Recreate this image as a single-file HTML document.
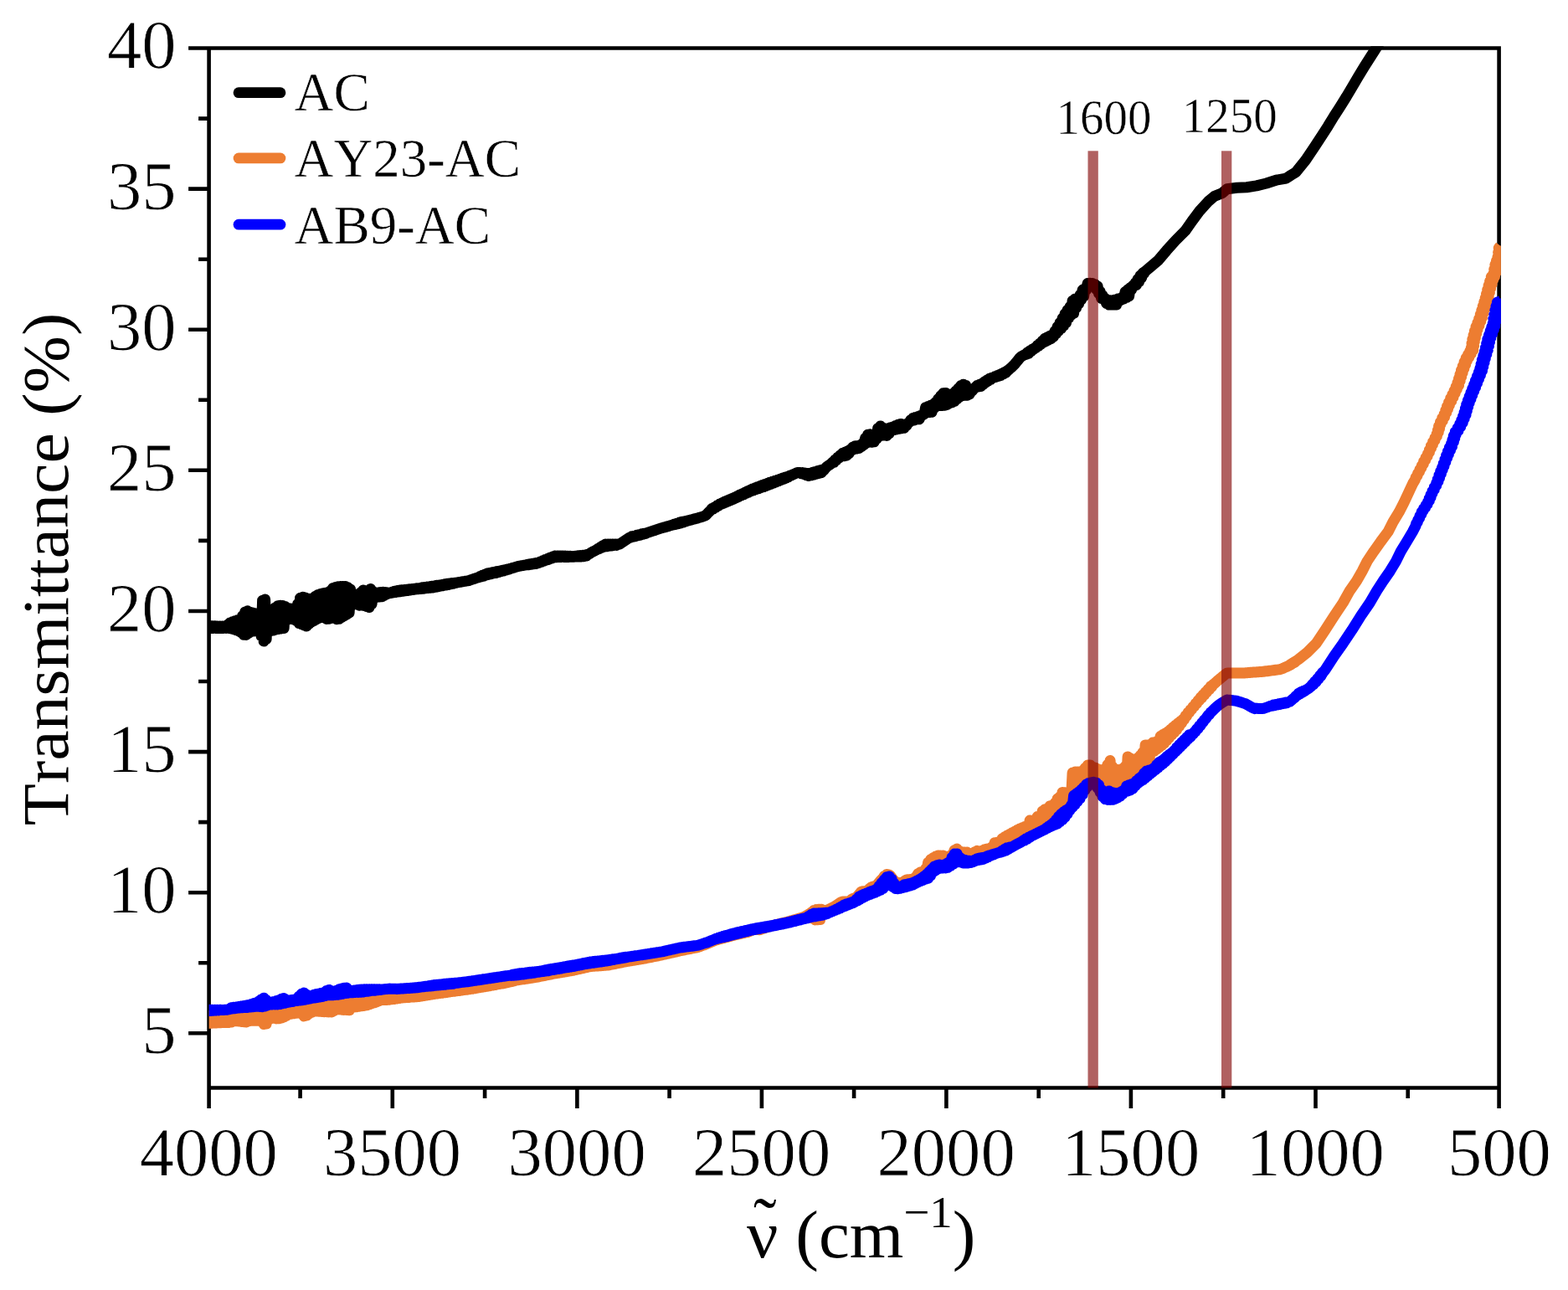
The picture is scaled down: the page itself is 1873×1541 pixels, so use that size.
<!DOCTYPE html>
<html lang="en">
<head>
<meta charset="utf-8">
<title>FTIR transmittance spectra</title>
<style>
html,body{margin:0;padding:0;background:#fff;}
body{width:1873px;height:1541px;overflow:hidden;}
svg{display:block;}
</style>
</head>
<body>
<svg width="1873" height="1541" viewBox="0 0 1873 1541">
<rect width="1873" height="1541" fill="#fff"/>
<defs><clipPath id="c"><rect x="249.6" y="55.2" width="1543.3" height="1246.6"/></clipPath></defs>
<g stroke="#000" stroke-width="4.6" fill="none">
<path d="M225.1 57.5 H1792.9 M249.6 57.5 V1324.0 M247.3 1299.5 H1792.9 M1790.6 57.5 V1324.0"/>
<path d="M225.1 225.6 H249.6 M225.1 393.7 H249.6 M225.1 561.8 H249.6 M225.1 730.0 H249.6 M225.1 898.1 H249.6 M225.1 1066.2 H249.6 M225.1 1234.3 H249.6 M237.1 141.6 H249.6 M237.1 309.7 H249.6 M237.1 477.8 H249.6 M237.1 645.9 H249.6 M237.1 814.0 H249.6 M237.1 982.1 H249.6 M237.1 1150.2 H249.6 M468.8 1299.5 V1324.0 M689.4 1299.5 V1324.0 M909.9 1299.5 V1324.0 M1130.4 1299.5 V1324.0 M1350.9 1299.5 V1324.0 M1571.5 1299.5 V1324.0 M358.6 1299.5 V1312.0 M579.1 1299.5 V1312.0 M799.6 1299.5 V1312.0 M1020.1 1299.5 V1312.0 M1240.7 1299.5 V1312.0 M1461.2 1299.5 V1312.0 M1681.7 1299.5 V1312.0"/>
</g>
<g clip-path="url(#c)" fill="none" stroke-width="13.0" stroke-linejoin="round" stroke-linecap="round">
<polyline stroke="#000" points="241.6,747.6 243.1,750.4 244.6,747.6 246.1,750.4 247.6,747.6 249.1,750.4 250.6,747.6 252.1,750.4 253.6,747.7 255.1,750.4 256.6,747.8 258.1,750.4 259.6,747.9 261.1,750.4 262.6,748.0 264.1,750.4 265.6,748.1 267.1,750.4 268.6,748.1 270.1,750.4 271.6,746.4 273.1,750.4 274.6,744.1 276.1,750.9 277.6,742.8 279.1,751.8 280.6,741.7 282.1,752.8 283.6,740.8 285.1,754.0 286.6,739.9 288.1,755.7 289.6,735.8 291.1,758.3 292.6,731.1 294.1,758.4 295.6,729.8 297.1,756.3 298.6,731.2 300.1,754.5 301.6,732.1 303.1,754.1 304.6,732.7 306.1,753.7 307.6,733.3 309.1,753.5 310.6,731.9 312.1,760.0 313.6,717.2 315.1,766.1 316.6,715.9 318.1,763.7 319.6,727.1 321.1,754.6 322.6,733.3 324.1,753.4 325.6,731.4 327.1,752.9 328.6,725.9 330.1,752.0 331.6,723.8 333.1,751.4 334.6,723.3 336.1,751.0 337.6,723.4 339.1,750.6 340.6,724.4 342.1,741.2 343.6,726.6 345.1,738.7 346.6,727.0 348.1,739.4 349.6,727.0 351.1,740.2 352.6,726.9 354.1,741.8 355.6,721.5 357.1,744.5 358.6,714.3 360.1,745.8 361.6,713.3 363.1,747.0 364.6,713.9 366.1,748.1 367.6,714.9 369.1,745.3 370.6,715.7 372.1,743.2 373.6,714.6 375.1,741.6 376.6,712.3 378.1,740.0 379.6,710.5 381.1,738.5 382.6,709.6 384.1,737.1 385.6,708.7 387.1,737.9 388.6,708.2 390.1,739.4 391.6,707.7 393.1,739.3 394.6,705.7 396.1,737.6 397.6,702.5 399.1,738.4 400.6,701.6 402.1,739.7 403.6,700.7 405.1,739.3 406.6,700.5 408.1,737.6 409.6,700.5 411.1,736.0 412.6,700.4 414.1,734.2 415.6,701.8 417.1,732.2 418.6,703.9 420.1,723.2 421.6,709.4 423.1,718.3 424.6,710.4 426.1,720.0 427.6,710.0 429.1,723.2 430.6,707.9 432.1,722.9 433.6,705.1 435.1,723.5 436.6,706.2 438.1,724.6 439.6,705.5 441.1,725.6 442.6,703.4 444.1,721.4 445.6,706.8 447.1,713.9 448.6,708.8 450.1,713.3 451.6,708.1 453.1,713.1 454.6,707.5 456.1,712.8 457.6,707.2 459.1,711.4 460.6,707.6 462.1,709.9 463.6,708.1 465.1,708.5 466.6,708.5 468.1,707.4 469.6,708.0 471.1,706.5 472.6,707.6 474.1,705.6 475.6,707.1 477.1,705.1 478.6,706.7 480.1,704.8 481.6,706.2 483.1,704.5 484.6,705.8 486.1,704.2 487.6,705.3 489.1,703.9 490.6,704.9 492.1,703.6 493.6,704.4 495.1,703.3 496.6,704.0 498.1,702.9 499.6,703.7 501.1,702.5 502.6,703.4 504.1,702.0 505.6,703.1 507.1,701.6 508.6,702.8 510.1,701.1 511.6,702.5 513.1,700.7 514.6,702.2 516.1,700.2 517.6,701.9 519.1,699.8 520.6,701.3 522.1,699.3 523.6,700.7 525.1,698.9 526.6,700.1 528.1,698.4 529.6,699.5 531.1,698.0 532.6,698.9 534.1,697.5 535.6,698.3 537.1,697.1 538.6,697.7 540.1,696.6 541.6,697.1 543.1,696.2 544.6,696.2 546.1,696.0 547.6,695.7 549.1,695.4 550.6,695.2 552.1,694.9 553.6,694.6 555.1,694.4 556.6,694.1 558.1,693.9 559.6,693.6 561.1,693.2 562.6,692.7 564.1,692.2 565.6,691.7 567.1,691.1 568.6,690.6 570.1,690.1 571.6,689.9 573.1,688.6 574.6,689.0 576.1,687.4 577.6,688.1 579.1,686.2 580.6,687.2 582.1,685.0 583.6,686.4 585.1,684.4 586.6,685.7 588.1,683.8 589.6,684.9 591.1,683.2 592.6,684.2 594.1,682.6 595.6,683.4 597.1,682.0 598.6,682.7 600.1,681.4 601.6,681.9 603.1,680.8 604.6,681.1 606.1,680.0 607.6,680.2 609.1,679.4 610.6,679.0 612.1,678.5 613.6,678.1 615.1,677.7 616.6,677.2 618.1,676.8 619.6,676.4 621.1,676.1 622.6,675.8 624.1,675.6 625.6,675.3 627.1,675.1 628.6,674.9 630.1,674.3 631.6,674.7 633.1,673.8 634.6,674.3 636.1,673.3 637.6,673.8 639.1,672.8 640.6,673.4 642.1,672.2 643.6,672.4 645.1,671.0 646.6,671.3 648.1,669.8 649.6,670.3 651.1,668.6 652.6,669.2 654.1,667.4 655.6,668.2 657.1,666.2 658.6,667.1 660.1,665.0 661.6,666.1 663.1,663.9 664.6,665.7 666.1,663.9 667.6,665.6 669.1,664.0 670.6,665.6 672.1,664.1 673.6,665.5 675.1,664.2 676.6,665.4 678.1,664.3 679.6,665.3 681.1,664.4 682.6,665.2 684.1,664.5 685.6,665.1 687.1,664.2 688.6,665.0 690.1,663.8 691.6,664.9 693.1,663.5 694.6,664.9 696.1,663.2 697.6,664.8 699.1,662.9 700.6,664.0 702.1,662.0 703.6,662.0 705.1,660.8 706.6,659.9 708.1,659.0 709.6,658.3 711.1,657.6 712.6,656.8 714.1,655.6 715.6,655.7 717.1,653.7 718.6,654.4 720.1,651.8 721.6,653.2 723.1,650.0 724.6,652.7 726.1,650.0 727.6,652.3 729.1,650.0 730.6,652.0 732.1,650.0 733.6,651.6 735.1,650.0 736.6,651.2 738.1,650.0 739.6,650.2 741.1,649.4 742.6,648.4 744.1,647.4 745.6,646.4 747.1,645.4 748.6,644.4 750.1,643.4 751.6,642.4 753.1,642.1 754.6,640.9 756.1,641.3 757.6,640.2 759.1,640.6 760.6,639.4 762.1,639.8 763.6,638.7 765.1,639.1 766.6,637.9 768.1,638.3 769.6,637.2 771.1,637.4 772.6,636.6 774.1,636.1 775.6,635.6 777.1,635.1 778.6,634.6 780.1,634.1 781.6,633.6 783.1,633.2 784.6,632.7 786.1,632.2 787.6,631.7 789.1,631.2 790.6,630.7 792.1,630.3 793.6,629.9 795.1,629.5 796.6,629.0 798.1,628.6 799.6,628.2 801.1,627.7 802.6,627.3 804.1,626.9 805.6,626.1 807.1,626.4 808.6,625.2 810.1,625.7 811.6,624.2 813.1,624.9 814.6,623.4 816.1,624.0 817.6,622.7 819.1,623.1 820.6,622.3 822.1,621.9 823.6,621.5 825.1,621.1 826.6,620.7 828.1,620.3 829.6,619.9 831.1,619.5 832.6,619.1 834.1,618.7 835.6,618.2 837.1,617.8 838.6,617.3 840.1,616.8 841.6,616.2 843.1,615.4 844.6,614.0 846.1,612.3 847.6,610.8 849.1,609.3 850.6,607.4 852.1,607.9 853.6,605.7 855.1,606.1 856.6,603.9 858.1,604.4 859.6,602.2 861.1,602.7 862.6,600.5 864.1,601.4 865.6,599.2 867.1,600.1 868.6,597.9 870.1,598.9 871.6,596.6 873.1,597.6 874.6,595.3 876.1,596.3 877.6,594.0 879.1,594.9 880.6,592.6 882.1,593.6 883.6,591.1 885.1,592.2 886.6,589.7 888.1,590.9 889.6,588.2 891.1,589.5 892.6,586.8 894.1,588.2 895.6,585.4 897.1,586.8 898.6,584.0 900.1,585.8 901.6,582.8 903.1,584.7 904.6,581.7 906.1,583.7 907.6,580.6 909.1,582.6 910.6,579.5 912.1,581.6 913.6,578.4 915.1,580.5 916.6,577.3 918.1,579.5 919.6,576.2 921.1,578.3 922.6,575.2 924.1,577.1 925.6,574.2 927.1,575.9 928.6,573.2 930.1,574.7 931.6,572.2 933.1,573.5 934.6,571.2 936.1,572.3 937.6,570.2 939.1,571.1 940.6,569.2 942.1,569.6 943.6,568.1 945.1,568.1 946.6,567.1 948.1,566.5 949.6,565.8 951.1,565.1 952.6,564.5 954.1,564.4 955.6,564.4 957.1,565.6 958.6,564.8 960.1,566.6 961.6,565.1 963.1,567.6 964.6,565.5 966.1,568.5 967.6,565.2 969.1,567.8 970.6,564.3 972.1,567.0 973.6,563.5 975.1,566.3 976.6,562.6 978.1,565.5 979.6,561.8 981.1,564.8 982.6,560.9 984.1,561.7 985.6,559.6 987.1,558.1 988.6,556.7 990.1,555.8 991.6,554.8 993.1,553.7 994.6,552.0 996.1,552.3 997.6,549.0 999.1,549.7 1000.6,546.3 1002.1,547.1 1003.6,543.7 1005.1,545.1 1006.6,541.2 1008.1,544.7 1009.6,540.0 1011.1,544.2 1012.6,538.7 1014.1,541.9 1015.6,536.9 1017.1,538.3 1018.6,534.2 1020.1,536.7 1021.6,532.7 1023.1,536.0 1024.6,532.5 1026.1,535.4 1027.6,532.2 1029.1,533.6 1030.6,529.3 1032.1,531.5 1033.6,523.3 1035.1,529.3 1036.6,519.3 1038.1,527.5 1039.6,518.8 1041.1,528.3 1042.6,519.6 1044.1,527.8 1045.6,519.1 1047.1,524.1 1048.6,511.7 1050.1,520.7 1051.6,509.0 1053.1,520.2 1054.6,511.1 1056.1,519.9 1057.6,512.2 1059.1,520.4 1060.6,511.7 1062.1,517.8 1063.6,510.8 1065.1,514.4 1066.6,509.9 1068.1,513.5 1069.6,508.6 1071.1,512.9 1072.6,507.3 1074.1,512.3 1075.6,506.4 1077.1,511.8 1078.6,507.0 1080.1,511.3 1081.6,507.6 1083.1,508.1 1084.6,505.4 1086.1,504.6 1087.6,502.1 1089.1,502.6 1090.6,499.4 1092.1,501.9 1093.6,498.4 1095.1,501.1 1096.6,497.4 1098.1,500.8 1099.6,496.5 1101.1,496.3 1102.6,495.5 1104.1,494.6 1105.6,486.7 1107.1,492.9 1108.6,485.5 1110.1,492.6 1111.6,484.3 1113.1,492.3 1114.6,483.0 1116.1,487.5 1117.6,480.4 1119.1,484.6 1120.6,476.6 1122.1,484.6 1123.6,473.0 1125.1,484.6 1126.6,469.8 1128.1,484.3 1129.6,469.5 1131.1,483.5 1132.6,471.9 1134.1,481.7 1135.6,472.5 1137.1,480.8 1138.6,469.9 1140.1,479.4 1141.6,467.2 1143.1,476.7 1144.6,464.0 1146.1,474.4 1147.6,460.7 1149.1,472.9 1150.6,459.2 1152.1,472.3 1153.6,460.4 1155.1,472.3 1156.6,465.6 1158.1,471.1 1159.6,467.5 1161.1,467.3 1162.6,465.2 1164.1,463.6 1165.6,462.2 1167.1,460.6 1168.6,462.0 1170.1,459.2 1171.6,461.5 1173.1,457.9 1174.6,459.1 1176.1,455.9 1177.6,456.8 1179.1,453.8 1180.6,455.0 1182.1,452.5 1183.6,453.1 1185.1,451.2 1186.6,451.3 1188.1,449.9 1189.6,450.4 1191.1,448.6 1192.6,449.5 1194.1,447.3 1195.6,448.5 1197.1,446.0 1198.6,447.0 1200.1,444.5 1201.6,445.3 1203.1,443.0 1204.6,442.0 1206.1,440.7 1207.6,439.4 1209.1,438.0 1210.6,436.6 1212.1,435.0 1213.6,433.2 1215.1,431.3 1216.6,429.5 1218.1,427.6 1219.6,426.2 1221.1,425.2 1222.6,424.4 1224.1,423.7 1225.6,423.6 1227.1,421.2 1228.6,422.3 1230.1,419.0 1231.6,419.8 1233.1,417.3 1234.6,417.4 1236.1,415.5 1237.6,415.3 1239.1,412.8 1240.6,413.2 1242.1,410.0 1243.6,411.1 1245.1,407.1 1246.6,409.1 1248.1,404.3 1249.6,407.6 1251.1,402.7 1252.6,406.1 1254.1,401.2 1255.6,404.6 1257.1,399.7 1258.6,402.2 1260.1,395.5 1261.6,398.6 1263.1,390.3 1264.6,395.4 1266.1,385.5 1267.6,392.4 1269.1,380.2 1270.6,389.0 1272.1,374.8 1273.6,385.4 1275.1,370.4 1276.6,379.8 1278.1,366.2 1279.6,376.1 1281.1,359.2 1282.6,374.1 1284.1,356.9 1285.6,367.7 1287.1,356.4 1288.6,362.8 1290.1,352.3 1291.6,358.0 1293.1,346.3 1294.6,354.0 1296.1,344.4 1297.6,346.5 1299.1,338.6 1300.6,342.1 1302.1,338.2 1303.6,340.2 1305.1,338.5 1306.6,341.1 1308.1,339.7 1309.6,345.6 1311.1,342.0 1312.6,350.8 1314.1,348.0 1315.6,356.3 1317.1,352.7 1318.6,357.9 1320.1,356.4 1321.6,362.5 1323.1,358.7 1324.6,364.0 1326.1,358.8 1327.6,364.0 1329.1,358.8 1330.6,364.0 1332.1,358.0 1333.6,364.0 1335.1,357.1 1336.6,359.8 1338.1,356.5 1339.6,358.2 1341.1,354.5 1342.6,357.0 1344.1,348.5 1345.6,355.5 1347.1,346.1 1348.6,353.8 1350.1,343.8 1351.6,346.0 1353.1,341.4 1354.6,341.1 1356.1,337.9 1357.6,340.4 1359.1,333.4 1360.6,336.7 1362.1,329.1 1363.6,331.9 1365.1,326.1 1366.6,326.6"/>
<polyline stroke="#000" stroke-linecap="butt" points="1364.1,327.4 1372.9,320.0 1383.5,311.0 1393.5,299.2 1404.0,287.5 1415.8,275.7 1424.0,264.0 1432.8,252.2 1443.4,240.5 1450.4,234.6 1459.8,230.7 1465.7,225.8 1477.5,224.3 1489.2,223.7 1501.0,221.9 1512.7,219.0 1524.4,215.2 1536.2,213.1 1542.1,209.3 1547.9,205.8 1559.7,191.1 1571.1,174.2 1578.7,162.5 1586.3,150.7 1593.4,139.0 1601.0,127.2 1608.3,115.5 1615.3,103.7 1622.2,92.0 1629.4,80.2 1636.8,68.5 1642.4,59.7 1651.5,45.0 1657.4,35.6"/>
<polyline stroke="#ed7d31" points="241.6,1213.5 243.1,1222.4 244.6,1213.5 246.1,1222.4 247.6,1213.5 249.1,1222.4 250.6,1213.4 252.1,1222.3 253.6,1213.3 255.1,1222.1 256.6,1213.2 258.1,1222.0 259.6,1213.1 261.1,1221.8 262.6,1213.0 264.1,1221.7 265.6,1212.9 267.1,1221.5 268.6,1212.8 270.1,1221.5 271.6,1212.7 273.1,1221.5 274.6,1211.2 276.1,1221.1 277.6,1210.8 279.1,1219.9 280.6,1210.4 282.1,1219.8 283.6,1210.0 285.1,1220.1 286.6,1209.6 288.1,1220.4 289.6,1209.3 291.1,1220.7 292.6,1208.9 294.1,1221.0 295.6,1208.6 297.1,1219.9 298.6,1208.1 300.1,1219.3 301.6,1207.4 303.1,1219.3 304.6,1206.8 306.1,1219.3 307.6,1206.0 309.1,1219.3 310.6,1205.1 312.1,1219.8 313.6,1204.2 315.1,1223.5 316.6,1204.1 318.1,1223.0 319.6,1204.7 321.1,1217.9 322.6,1205.2 324.1,1215.8 325.6,1204.8 327.1,1216.3 328.6,1204.4 330.1,1216.9 331.6,1204.0 333.1,1216.8 334.6,1203.3 336.1,1216.0 337.6,1202.2 339.1,1215.1 340.6,1202.3 342.1,1213.3 343.6,1202.9 345.1,1211.6 346.6,1202.4 348.1,1211.2 349.6,1201.9 351.1,1210.8 352.6,1201.4 354.1,1210.3 355.6,1200.0 357.1,1209.9 358.6,1198.0 360.1,1211.2 361.6,1197.1 363.1,1213.9 364.6,1197.0 366.1,1213.0 367.6,1197.7 369.1,1211.0 370.6,1198.4 372.1,1209.4 373.6,1197.4 375.1,1207.9 376.6,1196.3 378.1,1208.1 379.6,1195.8 381.1,1208.3 382.6,1195.3 384.1,1208.5 385.6,1194.8 387.1,1208.7 388.6,1193.6 390.1,1208.8 391.6,1192.1 393.1,1208.9 394.6,1192.4 396.1,1209.0 397.6,1193.0 399.1,1207.3 400.6,1192.8 402.1,1205.8 403.6,1191.9 405.1,1205.9 406.6,1191.1 408.1,1206.2 409.6,1190.4 411.1,1206.4 412.6,1189.8 414.1,1206.6 415.6,1190.1 417.1,1206.8 418.6,1191.1 420.1,1203.8 421.6,1190.9 423.1,1203.1 424.6,1190.7 426.1,1202.7 427.6,1190.4 429.1,1202.3 430.6,1190.2 432.1,1201.8 433.6,1189.9 435.1,1201.4 436.6,1189.7 438.1,1200.8 439.6,1189.5 441.1,1199.8 442.6,1189.3 444.1,1198.8 445.6,1189.0 447.1,1197.8 448.6,1188.9 450.1,1196.8 451.6,1188.7 453.1,1195.7 454.6,1188.6 456.1,1194.6 457.6,1188.4 459.1,1194.5 460.6,1188.1 462.1,1194.4 463.6,1187.8 465.1,1194.2 466.6,1187.7 468.1,1193.8 469.6,1187.7 471.1,1193.4 472.6,1187.8 474.1,1193.0 475.6,1187.8 477.1,1192.5 478.6,1187.6 480.1,1192.1 481.6,1187.4 483.1,1191.8 484.6,1187.2 486.1,1191.6 487.6,1187.0 489.1,1191.4 490.6,1186.8 492.1,1191.1 493.6,1186.6 495.1,1190.9 496.6,1186.4 498.1,1190.7 499.6,1186.0 501.1,1190.4 502.6,1185.6 504.1,1189.9 505.6,1185.2 507.1,1189.4 508.6,1184.9 510.1,1188.9 511.6,1184.5 513.1,1188.4 514.6,1184.1 516.1,1187.9 517.6,1183.7 519.1,1187.5 520.6,1183.4 522.1,1187.0 523.6,1183.1 525.1,1186.6 526.6,1182.8 528.1,1186.2 529.6,1182.5 531.1,1185.8 532.6,1182.2 534.1,1185.4 535.6,1181.9 537.1,1184.9 538.6,1181.6 540.1,1184.5 541.6,1181.3 543.1,1184.2 544.6,1180.9 546.1,1183.8 547.6,1180.5 549.1,1183.4 550.6,1180.1 552.1,1183.0 553.6,1179.8 555.1,1182.6 556.6,1179.4 558.1,1182.2 559.6,1179.0 561.1,1181.8 562.6,1178.6 564.1,1181.3 565.6,1178.1 567.1,1180.8 568.6,1177.7 570.1,1180.2 571.6,1177.2 573.1,1179.7 574.6,1176.8 576.1,1179.2 577.6,1176.3 579.1,1178.7 580.6,1175.9 582.1,1178.2 583.6,1175.4 585.1,1177.7 586.6,1175.0 588.1,1177.1 589.6,1174.5 591.1,1176.6 592.6,1174.1 594.1,1176.0 595.6,1173.6 597.1,1175.5 598.6,1173.2 600.1,1175.0 601.6,1172.7 603.1,1174.4 604.6,1172.3 606.1,1173.7 607.6,1171.9 609.1,1173.1 610.6,1171.5 612.1,1172.4 613.6,1171.1 615.1,1171.7 616.6,1170.7 618.1,1170.8 619.6,1170.5 621.1,1170.3 622.6,1170.1 624.1,1169.9 625.6,1169.7 627.1,1169.5 628.6,1169.2 630.1,1169.0 631.6,1168.8 633.1,1168.6 634.6,1168.4 636.1,1168.1 637.6,1167.9 639.1,1167.6 640.6,1167.4 642.1,1167.1 643.6,1166.8 645.1,1166.5 646.6,1166.2 648.1,1165.9 649.6,1165.6 651.1,1165.3 652.6,1165.0 654.1,1164.7 655.6,1164.4 657.1,1164.1 658.6,1163.8 660.1,1163.5 661.6,1163.2 663.1,1162.9 664.6,1162.7 666.1,1162.4 667.6,1162.2 669.1,1161.9 670.6,1161.7 672.1,1161.4 673.6,1161.2 675.1,1160.9 676.6,1160.7 678.1,1160.4 679.6,1160.1 681.1,1159.9 682.6,1159.6 684.1,1159.4 685.6,1159.0 687.1,1158.7 688.6,1158.3 690.1,1158.0 691.6,1157.7 693.1,1157.3 694.6,1157.0 696.1,1156.6 697.6,1156.3 699.1,1155.9 700.6,1155.6 702.1,1155.2 703.6,1154.9 705.1,1154.6 706.6,1154.4 708.1,1154.3 709.6,1154.2 711.1,1154.1 712.6,1154.0 714.1,1153.9 715.6,1153.8 717.1,1153.7 718.6,1153.5 720.1,1153.4 721.6,1153.3 723.1,1153.2 724.6,1153.1 726.1,1153.0 727.6,1152.8 729.1,1152.5 730.6,1152.2 732.1,1151.9 733.6,1151.6 735.1,1151.3 736.6,1151.0 738.1,1150.7 739.6,1150.4 741.1,1150.1 742.6,1149.8 744.1,1149.5 745.6,1149.2 747.1,1148.9 748.6,1148.6 750.1,1148.4 751.6,1148.1 753.1,1147.9 754.6,1147.6 756.1,1147.4 757.6,1147.1 759.1,1146.8 760.6,1146.6 762.1,1146.3 763.6,1146.1 765.1,1145.8 766.6,1145.6 768.1,1145.3 769.6,1145.1 771.1,1144.8 772.6,1144.5 774.1,1144.2 775.6,1143.9 777.1,1143.6 778.6,1143.3 780.1,1143.0 781.6,1142.7 783.1,1142.4 784.6,1142.1 786.1,1141.8 787.6,1141.5 789.1,1141.2 790.6,1140.8 792.1,1140.5 793.6,1140.2 795.1,1139.8 796.6,1139.5 798.1,1139.1 799.6,1138.8 801.1,1138.4 802.6,1138.1 804.1,1137.8 805.6,1137.4 807.1,1137.1 808.6,1136.7 810.1,1136.4 811.6,1136.0 813.1,1135.7 814.6,1135.4 816.1,1135.1 817.6,1134.8 819.1,1134.5 820.6,1134.2 822.1,1133.9 823.6,1133.6 825.1,1133.3 826.6,1133.0 828.1,1132.7 829.6,1132.4 831.1,1132.1 832.6,1131.8 834.1,1131.4 835.6,1130.9 837.1,1130.3 838.6,1129.7 840.1,1129.2 841.6,1128.6 843.1,1128.0 844.6,1127.4 846.1,1126.8 847.6,1126.1 849.1,1125.5 850.6,1124.9 852.1,1124.3 853.6,1123.6 855.1,1123.1 856.6,1122.6 858.1,1122.2 859.6,1121.8 861.1,1121.4 862.6,1121.0 864.1,1120.6 865.6,1120.2 867.1,1119.8 868.6,1119.4 870.1,1119.0 871.6,1118.6 873.1,1118.2 874.6,1117.8 876.1,1117.4 877.6,1117.0 879.1,1116.7 880.6,1116.3 882.1,1116.0 883.6,1115.6 885.1,1115.3 886.6,1114.9 888.1,1114.6 889.6,1114.2 891.1,1113.9 892.6,1113.6 894.1,1113.2 895.6,1112.5 897.1,1111.6 898.6,1111.2 900.1,1110.3 901.6,1109.8 903.1,1109.9 904.6,1110.4 906.1,1110.5 907.6,1110.7 909.1,1110.1 910.6,1109.6 912.1,1109.1 913.6,1108.6 915.1,1108.0 916.6,1107.5 918.1,1107.0 919.6,1106.5 921.1,1106.1 922.6,1105.8 924.1,1105.4 925.6,1105.0 927.1,1104.6 928.6,1104.3 930.1,1103.9 931.6,1103.5 933.1,1103.1 934.6,1102.7 936.1,1102.4 937.6,1102.0 939.1,1101.6 940.6,1101.2 942.1,1100.8 943.6,1100.3 945.1,1099.9 946.6,1099.5 948.1,1099.0 949.6,1098.6 951.1,1098.2 952.6,1097.7 954.1,1097.3 955.6,1096.9 957.1,1096.4 958.6,1095.9 960.1,1095.4 961.6,1094.8 963.1,1093.9 964.6,1092.9 966.1,1092.1 967.6,1092.9 969.1,1089.8 970.6,1097.0 972.1,1087.5 973.6,1098.9 975.1,1086.6 976.6,1098.7 978.1,1086.3 979.6,1098.6 981.1,1086.3 982.6,1090.1 984.1,1087.3 985.6,1087.7 987.1,1087.5 988.6,1087.0 990.1,1086.4 991.6,1085.6 993.1,1084.8 994.6,1084.0 996.1,1083.3 997.6,1082.4 999.1,1081.4 1000.6,1080.4 1002.1,1079.4 1003.6,1078.3 1005.1,1077.5 1006.6,1077.1 1008.1,1077.1 1009.6,1077.1 1011.1,1077.0 1012.6,1077.0 1014.1,1076.8 1015.6,1075.8 1017.1,1074.4 1018.6,1073.5 1020.1,1073.1 1021.6,1073.0 1023.1,1071.8 1024.6,1070.2 1026.1,1068.4 1027.6,1066.6 1029.1,1064.9 1030.6,1064.8 1032.1,1064.8 1033.6,1064.7 1035.1,1064.5 1036.6,1063.5 1038.1,1062.0 1039.6,1060.7 1041.1,1059.6 1042.6,1059.1 1044.1,1059.0 1045.6,1058.3 1047.1,1057.3 1048.6,1056.0 1050.1,1054.1 1051.6,1052.2 1053.1,1050.6 1054.6,1049.5 1056.1,1046.7 1057.6,1046.9 1059.1,1044.6 1060.6,1044.7 1062.1,1045.2 1063.6,1046.2 1065.1,1048.3 1066.6,1050.5 1068.1,1051.8 1069.6,1053.3 1071.1,1054.6 1072.6,1054.6 1074.1,1054.6 1075.6,1054.6 1077.1,1054.6 1078.6,1053.8 1080.1,1052.7 1081.6,1051.7 1083.1,1051.0 1084.6,1050.8 1086.1,1050.7 1087.6,1050.6 1089.1,1050.6 1090.6,1049.9 1092.1,1049.2 1093.6,1047.9 1095.1,1046.7 1096.6,1043.6 1098.1,1045.1 1099.6,1041.7 1101.1,1043.4 1102.6,1040.7 1104.1,1041.6 1105.6,1037.8 1107.1,1039.7 1108.6,1030.2 1110.1,1037.3 1111.6,1026.8 1113.1,1033.5 1114.6,1024.7 1116.1,1031.2 1117.6,1023.1 1119.1,1029.7 1120.6,1022.0 1122.1,1028.7 1123.6,1022.0 1125.1,1028.7 1126.6,1022.0 1128.1,1028.2 1129.6,1022.9 1131.1,1027.2 1132.6,1024.0 1134.1,1023.3 1135.6,1022.2 1137.1,1020.9 1138.6,1019.7 1140.1,1015.5 1141.6,1018.8 1143.1,1013.9 1144.6,1017.9 1146.1,1016.6 1147.6,1019.7 1149.1,1017.7 1150.6,1022.3 1152.1,1017.9 1153.6,1022.8 1155.1,1018.0 1156.6,1023.0 1158.1,1019.2 1159.6,1023.1 1161.1,1020.4 1162.6,1022.2 1164.1,1017.7 1165.6,1020.6 1167.1,1016.3 1168.6,1020.0 1170.1,1016.9 1171.6,1019.4 1173.1,1016.2 1174.6,1018.9 1176.1,1014.7 1177.6,1017.7 1179.1,1013.9 1180.6,1016.4 1182.1,1013.6 1183.6,1015.2 1185.1,1011.6 1186.6,1014.1 1188.1,1006.7 1189.6,1013.1 1191.1,1006.2 1192.6,1012.1 1194.1,1006.2 1195.6,1010.7 1197.1,1001.7 1198.6,1009.3 1200.1,999.7 1201.6,1008.0 1203.1,998.1 1204.6,1006.9 1206.1,996.5 1207.6,1005.8 1209.1,994.8 1210.6,1004.2 1212.1,993.2 1213.6,1002.2 1215.1,991.5 1216.6,1000.6 1218.1,989.9 1219.6,998.9 1221.1,988.7 1222.6,997.3 1224.1,987.6 1225.6,995.6 1227.1,986.4 1228.6,994.0 1230.1,980.0 1231.6,992.3 1233.1,980.2 1234.6,990.7 1236.1,979.2 1237.6,989.2 1239.1,975.5 1240.6,987.7 1242.1,974.5 1243.6,986.2 1245.1,969.0 1246.6,984.5 1248.1,966.7 1249.6,982.7 1251.1,966.6 1252.6,980.9 1254.1,962.8 1255.6,979.0 1257.1,962.8 1258.6,976.6 1260.1,959.1 1261.6,974.1 1263.1,954.1 1264.6,971.7 1266.1,951.6 1267.6,969.2 1269.1,946.5 1270.6,966.8 1272.1,946.7 1273.6,964.4 1275.1,948.1 1276.6,955.3 1278.1,946.1 1279.6,952.4 1281.1,923.0 1282.6,949.6 1284.1,922.0 1285.6,946.7 1287.1,921.9 1288.6,943.5 1290.1,921.8 1291.6,940.2 1293.1,921.7 1294.6,935.6 1296.1,917.5 1297.6,932.6 1299.1,914.1 1300.6,930.5 1302.1,914.0 1303.6,928.9 1305.1,916.3 1306.6,928.4 1308.1,917.2 1309.6,930.8 1311.1,918.8 1312.6,933.6 1314.1,921.6 1315.6,937.6 1317.1,920.3 1318.6,942.1 1320.1,917.9 1321.6,944.5 1323.1,913.3 1324.6,943.4 1326.1,908.5 1327.6,944.2 1329.1,916.1 1330.6,944.5 1332.1,919.4 1333.6,944.1 1335.1,919.4 1336.6,942.8 1338.1,919.4 1339.6,941.0 1341.1,917.9 1342.6,936.8 1344.1,915.3 1345.6,935.3 1347.1,903.9 1348.6,934.5 1350.1,905.7 1351.6,933.6 1353.1,907.3 1354.6,930.6 1356.1,907.3 1357.6,927.8 1359.1,905.3 1360.6,925.2 1362.1,902.5 1363.6,922.2 1365.1,898.6 1366.6,919.7 1368.1,889.9 1369.6,918.0 1371.1,890.0 1372.6,916.3 1374.1,890.0 1375.6,898.8 1377.1,887.0 1378.6,897.3 1380.1,886.6 1381.6,895.1 1383.1,885.0 1384.6,892.8 1386.1,879.5 1387.6,890.4 1389.1,877.6 1390.6,888.0 1392.1,875.9 1393.6,884.7 1395.1,873.9 1396.6,881.2 1398.1,871.4 1399.6,878.0 1401.1,868.9 1402.6,875.0 1404.1,866.4 1405.6,871.8 1407.1,863.9 1408.6,868.0 1410.1,861.6 1411.6,863.7 1413.1,859.2 1414.6,859.5 1416.1,854.9 1417.6,855.3 1419.1,851.3 1420.6,851.1 1422.1,847.7 1423.6,847.5 1425.1,844.1 1426.6,843.9 1428.1,840.5 1429.6,840.3 1431.1,836.9 1432.6,836.8 1434.1,833.3 1435.6,833.5 1437.1,829.8 1438.6,830.2 1440.1,826.5 1441.6,826.9 1443.1,823.2 1444.6,823.6 1446.1,820.1 1447.6,820.3 1449.1,817.7 1450.6,816.7 1452.1,815.3 1453.6,813.9 1455.1,812.7 1456.6,811.4 1458.1,810.2 1459.6,808.9 1461.1,807.7 1462.6,806.4 1464.1,805.1 1465.6,804.1 1467.1,803.9 1468.6,803.9 1470.1,803.9 1471.6,803.9 1473.1,803.9 1474.6,803.9 1476.1,803.9 1477.6,803.9 1479.1,803.9 1480.6,803.9 1482.1,803.9 1483.6,803.9 1485.1,803.9 1486.6,803.9 1488.1,803.8 1489.6,803.7 1491.1,803.6 1492.6,803.5 1494.1,803.3 1495.6,803.2 1497.1,803.1 1498.6,803.0 1500.1,802.9 1501.6,802.8 1503.1,802.7 1504.6,802.6 1506.1,802.5 1507.6,802.4 1509.1,802.2 1510.6,802.0 1512.1,801.8 1513.6,801.7 1515.1,801.5 1516.6,801.3 1518.1,801.1 1519.6,800.9 1521.1,800.7 1522.6,800.5 1524.1,800.3 1525.6,800.1 1527.1,799.9 1528.6,799.7 1530.1,799.3 1531.6,798.7 1533.1,798.1 1534.6,797.4 1536.1,796.7 1537.6,796.1 1539.1,795.4 1540.6,794.6 1542.1,793.7 1543.6,792.7 1545.1,791.7 1546.6,791.1"/>
<polyline stroke="#ed7d31" stroke-linecap="butt" points="1540.2,794.8 1550.8,787.9 1561.5,779.4 1572.2,768.7 1582.9,752.7 1593.6,736.0 1604.3,720.0 1612.3,705.7 1620.5,694.0 1627.2,682.2 1633.1,670.5 1641.0,658.7 1649.3,647.0 1658.1,635.2 1664.0,623.5 1671.2,611.7 1677.2,600.0 1682.2,589.2 1687.7,577.5 1690.5,572.9 1691.2,570.3 1693.0,568.2 1693.6,565.5 1695.5,563.5 1696.0,560.8 1697.9,558.9 1698.3,556.1 1700.3,554.2 1700.6,551.4 1702.7,549.5 1703.0,546.7 1705.2,544.8 1705.4,542.0 1707.5,540.1 1707.4,537.3 1709.6,535.4 1709.4,532.6 1711.6,530.8 1711.6,527.8 1714.0,526.1 1713.9,523.1 1716.4,521.4 1716.1,518.5 1718.2,516.6 1717.4,513.8 1719.5,511.9 1718.6,509.1 1720.8,507.3 1720.5,504.3 1723.2,502.7 1722.8,499.5 1725.5,498.0 1725.1,494.9 1727.7,493.2 1726.8,490.2 1729.5,488.5 1728.6,485.5 1731.3,483.9 1730.6,480.7 1733.6,479.2 1732.8,476.0 1735.8,474.6 1735.0,471.3 1738.1,469.9 1737.1,466.6 1740.3,465.2 1739.2,461.9 1742.5,460.4 1741.0,457.1 1744.1,455.3 1742.5,452.2 1745.6,450.4 1744.0,447.2 1747.1,445.5 1745.5,442.2 1748.8,440.6 1747.3,437.3 1750.6,435.7 1749.1,432.3 1752.4,431.0 1751.2,427.6 1754.8,426.9 1753.6,423.4 1757.2,422.8 1755.9,419.3 1759.8,418.2 1757.3,415.3 1760.6,413.3 1758.0,410.4 1761.3,408.3 1758.8,405.3 1762.4,403.6 1760.1,400.3 1763.7,398.6 1761.4,395.4 1765.0,393.9 1763.0,390.3 1766.9,388.9 1764.9,385.4 1768.8,384.0 1766.7,380.5 1770.6,379.0 1768.3,375.5 1772.2,374.1 1769.8,370.6 1773.8,369.1 1771.3,365.7 1775.3,364.2 1772.8,360.8 1776.8,359.3 1774.2,355.9 1778.2,354.3 1775.5,351.0 1779.4,349.3 1776.7,346.0 1780.6,344.5 1778.1,341.0 1782.1,339.5 1779.6,336.1 1783.6,334.6 1781.3,330.7 1785.5,330.4 1783.8,327.1 1787.6,324.9 1784.7,321.7 1788.4,319.8 1785.9,316.3 1789.9,314.9 1787.5,311.4 1791.5,310.0 1789.0,306.8 1792.7,304.5 1789.6,301.5 1793.3,299.2 1790.2,296.2 1792.2,293.7"/>
<polyline stroke="#0000ff" points="241.6,1206.4 243.1,1207.5 244.6,1206.4 246.1,1207.5 247.6,1206.4 249.1,1207.5 250.6,1206.4 252.1,1207.4 253.6,1206.4 255.1,1207.2 256.6,1206.3 258.1,1207.1 259.6,1206.3 261.1,1206.9 262.6,1206.2 264.1,1206.5 265.6,1206.4 267.1,1206.4 268.6,1206.3 270.1,1206.3 271.6,1206.2 273.1,1205.7 274.6,1205.5 276.1,1203.7 277.6,1205.1 279.1,1203.3 280.6,1204.7 282.1,1202.9 283.6,1204.3 285.1,1202.5 286.6,1204.0 288.1,1202.0 289.6,1203.8 291.1,1201.5 292.6,1203.6 294.1,1201.0 295.6,1203.5 297.1,1200.5 298.6,1203.1 300.1,1199.6 301.6,1202.8 303.1,1198.6 304.6,1202.4 306.1,1197.7 307.6,1202.3 309.1,1196.0 310.6,1202.5 312.1,1193.9 313.6,1202.7 315.1,1192.2 316.6,1202.0 318.1,1194.6 319.6,1200.9 321.1,1197.0 322.6,1199.9 324.1,1197.2 325.6,1199.9 327.1,1196.4 328.6,1199.9 330.1,1195.6 331.6,1199.9 333.1,1194.7 334.6,1199.5 336.1,1193.3 337.6,1198.8 339.1,1192.6 340.6,1198.2 342.1,1194.6 343.6,1197.5 345.1,1195.1 346.6,1197.0 348.1,1194.6 349.6,1196.4 351.1,1194.2 352.6,1195.8 354.1,1193.5 355.6,1195.4 357.1,1190.2 358.6,1195.1 360.1,1187.3 361.6,1194.7 363.1,1186.1 364.6,1194.2 366.1,1188.1 367.6,1193.6 369.1,1190.1 370.6,1192.9 372.1,1190.9 373.6,1192.3 375.1,1188.2 376.6,1191.9 378.1,1187.5 379.6,1191.4 381.1,1186.9 382.6,1191.0 384.1,1186.3 385.6,1190.5 387.1,1185.5 388.6,1189.6 390.1,1183.4 391.6,1188.7 393.1,1182.4 394.6,1188.7 396.1,1183.7 397.6,1188.7 399.1,1184.7 400.6,1188.5 402.1,1183.3 403.6,1188.2 405.1,1181.8 406.6,1187.8 408.1,1181.0 409.6,1187.2 411.1,1180.2 412.6,1186.6 414.1,1180.1 415.6,1186.2 417.1,1182.7 418.6,1185.8 420.1,1183.4 421.6,1185.7 423.1,1183.0 424.6,1185.5 426.1,1182.6 427.6,1185.4 429.1,1182.2 430.6,1185.3 432.1,1181.9 433.6,1185.1 435.1,1181.8 436.6,1184.6 438.1,1181.8 439.6,1184.2 441.1,1181.8 442.6,1183.7 444.1,1181.8 445.6,1183.3 447.1,1181.8 448.6,1183.0 450.1,1181.8 451.6,1182.7 453.1,1181.8 454.6,1182.4 456.1,1182.0 457.6,1181.9 459.1,1181.7 460.6,1181.6 462.1,1181.4 463.6,1181.3 465.1,1181.1 466.6,1181.2 468.1,1181.2 469.6,1181.2 471.1,1181.3 472.6,1181.3 474.1,1181.4 475.6,1181.3 477.1,1181.2 478.6,1181.1 480.1,1181.0 481.6,1180.9 483.1,1180.8 484.6,1180.7 486.1,1180.6 487.6,1180.5 489.1,1180.4 490.6,1180.3 492.1,1180.2 493.6,1180.1 495.1,1180.0 496.6,1179.8 498.1,1179.7 499.6,1179.5 501.1,1179.3 502.6,1179.1 504.1,1178.9 505.6,1178.7 507.1,1178.5 508.6,1178.3 510.1,1178.2 511.6,1178.0 513.1,1177.5 514.6,1177.9 516.1,1177.0 517.6,1177.6 519.1,1176.6 520.6,1177.3 522.1,1176.3 523.6,1177.0 525.1,1176.0 526.6,1176.7 528.1,1175.7 529.6,1176.4 531.1,1175.4 532.6,1176.1 534.1,1175.1 535.6,1175.8 537.1,1174.8 538.6,1175.5 540.1,1174.5 541.6,1175.1 543.1,1174.2 544.6,1174.4 546.1,1174.2 547.6,1174.0 549.1,1173.8 550.6,1173.6 552.1,1173.4 553.6,1173.2 555.1,1173.1 556.6,1172.9 558.1,1172.7 559.6,1172.5 561.1,1172.3 562.6,1172.1 564.1,1171.8 565.6,1171.6 567.1,1171.4 568.6,1171.2 570.1,1170.9 571.6,1170.7 573.1,1170.5 574.6,1170.3 576.1,1170.0 577.6,1169.8 579.1,1169.6 580.6,1169.4 582.1,1169.1 583.6,1168.9 585.1,1168.7 586.6,1168.5 588.1,1168.2 589.6,1168.0 591.1,1167.8 592.6,1167.6 594.1,1167.3 595.6,1167.1 597.1,1166.9 598.6,1166.7 600.1,1166.4 601.6,1166.2 603.1,1166.0 604.6,1165.8 606.1,1165.6 607.6,1165.4 609.1,1165.2 610.6,1165.4 612.1,1164.4 613.6,1165.2 615.1,1163.8 616.6,1165.0 618.1,1163.2 619.6,1164.7 621.1,1162.7 622.6,1164.3 624.1,1162.4 625.6,1163.9 627.1,1162.1 628.6,1163.4 630.1,1161.8 631.6,1163.0 633.1,1161.5 634.6,1162.5 636.1,1161.2 637.6,1162.1 639.1,1160.9 640.6,1161.6 642.1,1160.5 643.6,1161.2 645.1,1160.0 646.6,1160.7 648.1,1159.5 649.6,1160.3 651.1,1158.9 652.6,1159.8 654.1,1158.4 655.6,1159.4 657.1,1157.8 658.6,1158.9 660.1,1157.3 661.6,1158.5 663.1,1156.8 664.6,1157.9 666.1,1156.2 667.6,1157.4 669.1,1155.7 670.6,1156.9 672.1,1155.2 673.6,1156.3 675.1,1154.7 676.6,1155.8 678.1,1154.2 679.6,1155.2 681.1,1153.7 682.6,1154.7 684.1,1153.2 685.6,1154.2 687.1,1152.6 688.6,1153.7 690.1,1152.0 691.6,1153.2 693.1,1151.4 694.6,1152.7 696.1,1150.8 697.6,1152.1 699.1,1150.2 700.6,1151.6 702.1,1149.6 703.6,1151.1 705.1,1149.0 706.6,1150.6 708.1,1148.6 709.6,1150.2 711.1,1148.3 712.6,1149.7 714.1,1148.0 715.6,1149.3 717.1,1147.7 718.6,1148.8 720.1,1147.4 721.6,1148.4 723.1,1147.1 724.6,1147.9 726.1,1146.8 727.6,1147.5 729.1,1146.4 730.6,1146.9 732.1,1145.9 733.6,1146.4 735.1,1145.4 736.6,1145.8 738.1,1144.9 739.6,1145.3 741.1,1144.3 742.6,1144.8 744.1,1143.8 745.6,1144.2 747.1,1143.3 748.6,1143.7 750.1,1143.2 751.6,1142.9 753.1,1142.7 754.6,1142.5 756.1,1142.3 757.6,1142.0 759.1,1141.8 760.6,1141.6 762.1,1141.4 763.6,1141.1 765.1,1140.9 766.6,1140.7 768.1,1140.5 769.6,1140.2 771.1,1140.0 772.6,1139.8 774.1,1139.5 775.6,1139.3 777.1,1139.0 778.6,1138.8 780.1,1138.6 781.6,1138.3 783.1,1138.1 784.6,1137.8 786.1,1137.6 787.6,1137.4 789.1,1137.1 790.6,1136.9 792.1,1136.6 793.6,1136.2 795.1,1135.9 796.6,1135.5 798.1,1135.2 799.6,1134.9 801.1,1134.5 802.6,1134.2 804.1,1133.9 805.6,1133.5 807.1,1133.2 808.6,1132.8 810.1,1132.5 811.6,1132.2 813.1,1131.9 814.6,1131.7 816.1,1131.5 817.6,1131.3 819.1,1131.1 820.6,1130.9 822.1,1130.7 823.6,1130.6 825.1,1130.4 826.6,1130.2 828.1,1130.0 829.6,1129.8 831.1,1129.6 832.6,1129.4 834.1,1129.1 835.6,1128.6 837.1,1128.1 838.6,1127.7 840.1,1127.2 841.6,1126.7 843.1,1125.9 844.6,1126.0 846.1,1125.1 847.6,1124.5 849.1,1123.9 850.6,1123.3 852.1,1122.7 853.6,1122.1 855.1,1121.2 856.6,1121.5 858.1,1120.3 859.6,1120.8 861.1,1119.4 862.6,1120.0 864.1,1118.5 865.6,1119.3 867.1,1117.6 868.6,1118.5 870.1,1116.7 871.6,1117.8 873.1,1115.8 874.6,1117.0 876.1,1114.9 877.6,1116.3 879.1,1114.1 880.6,1115.5 882.1,1113.4 883.6,1114.8 885.1,1112.7 886.6,1114.0 888.1,1112.1 889.6,1113.3 891.1,1111.4 892.6,1112.5 894.1,1110.7 895.6,1111.8 897.1,1110.0 898.6,1111.1 900.1,1109.4 901.6,1110.5 903.1,1108.9 904.6,1109.9 906.1,1108.4 907.6,1109.3 909.1,1107.9 910.6,1108.7 912.1,1107.4 913.6,1108.1 915.1,1106.9 916.6,1107.5 918.1,1106.4 919.6,1106.9 921.1,1105.8 922.6,1106.3 924.1,1105.2 925.6,1105.7 927.1,1104.6 928.6,1105.1 930.1,1104.0 931.6,1104.5 933.1,1103.4 934.6,1103.9 936.1,1102.8 937.6,1103.3 939.1,1102.2 940.6,1102.7 942.1,1101.5 943.6,1101.9 945.1,1100.8 946.6,1101.2 948.1,1100.0 949.6,1100.4 951.1,1099.3 952.6,1099.7 954.1,1098.5 955.6,1098.9 957.1,1097.8 958.6,1098.2 960.1,1097.0 961.6,1097.4 963.1,1096.0 964.6,1096.7 966.1,1094.2 967.6,1095.9 969.1,1092.3 970.6,1095.2 972.1,1091.1 973.6,1094.7 975.1,1091.0 976.6,1094.2 978.1,1090.8 979.6,1093.7 981.1,1090.7 982.6,1093.2 984.1,1090.5 985.6,1092.3 987.1,1090.2 988.6,1091.3 990.1,1089.9 991.6,1090.1 993.1,1088.7 994.6,1088.8 996.1,1087.4 997.6,1087.5 999.1,1086.1 1000.6,1086.2 1002.1,1084.5 1003.6,1084.9 1005.1,1082.8 1006.6,1083.6 1008.1,1081.1 1009.6,1082.4 1011.1,1079.9 1012.6,1081.2 1014.1,1078.9 1015.6,1080.0 1017.1,1077.8 1018.6,1078.8 1020.1,1076.8 1021.6,1077.3 1023.1,1074.1 1024.6,1075.8 1026.1,1071.1 1027.6,1074.1 1029.1,1069.5 1030.6,1072.4 1032.1,1068.2 1033.6,1070.8 1035.1,1066.9 1036.6,1069.4 1038.1,1065.6 1039.6,1068.3 1041.1,1064.5 1042.6,1067.1 1044.1,1063.4 1045.6,1066.0 1047.1,1061.8 1048.6,1064.8 1050.1,1058.2 1051.6,1063.3 1053.1,1054.6 1054.6,1061.5 1056.1,1051.0 1057.6,1058.5 1059.1,1047.8 1060.6,1055.8 1062.1,1047.0 1063.6,1057.2 1065.1,1050.0 1066.6,1059.5 1068.1,1055.2 1069.6,1061.6 1071.1,1059.0 1072.6,1061.8 1074.1,1060.3 1075.6,1061.2 1077.1,1058.6 1078.6,1060.5 1080.1,1056.8 1081.6,1059.7 1083.1,1056.2 1084.6,1058.9 1086.1,1055.5 1087.6,1058.0 1089.1,1054.8 1090.6,1056.9 1092.1,1053.7 1093.6,1055.4 1095.1,1052.2 1096.6,1053.9 1098.1,1050.7 1099.6,1052.6 1101.1,1048.7 1102.6,1051.3 1104.1,1046.5 1105.6,1050.2 1107.1,1044.1 1108.6,1049.3 1110.1,1041.1 1111.6,1045.9 1113.1,1038.1 1114.6,1041.9 1116.1,1035.1 1117.6,1039.8 1119.1,1033.7 1120.6,1037.8 1122.1,1033.0 1123.6,1037.2 1125.1,1033.4 1126.6,1036.9 1128.1,1032.8 1129.6,1036.9 1131.1,1031.3 1132.6,1036.2 1134.1,1029.4 1135.6,1034.2 1137.1,1024.1 1138.6,1032.2 1140.1,1020.1 1141.6,1030.4 1143.1,1020.0 1144.6,1028.8 1146.1,1024.0 1147.6,1030.0 1149.1,1026.1 1150.6,1031.1 1152.1,1027.2 1153.6,1031.1 1155.1,1027.9 1156.6,1030.9 1158.1,1028.3 1159.6,1030.6 1161.1,1028.7 1162.6,1029.7 1164.1,1027.5 1165.6,1028.2 1167.1,1025.7 1168.6,1027.6 1170.1,1025.1 1171.6,1027.1 1173.1,1024.6 1174.6,1026.5 1176.1,1024.0 1177.6,1025.1 1179.1,1022.9 1180.6,1023.6 1182.1,1021.9 1183.6,1022.2 1185.1,1020.8 1186.6,1021.1 1188.1,1019.9 1189.6,1019.7 1191.1,1019.2 1192.6,1018.7 1194.1,1018.2 1195.6,1018.0 1197.1,1016.1 1198.6,1017.1 1200.1,1014.2 1201.6,1016.0 1203.1,1012.7 1204.6,1014.4 1206.1,1012.1 1207.6,1012.7 1209.1,1011.7 1210.6,1010.8 1212.1,1009.8 1213.6,1009.1 1215.1,1008.3 1216.6,1007.5 1218.1,1006.7 1219.6,1005.9 1221.1,1005.0 1222.6,1003.8 1224.1,1003.9 1225.6,1001.7 1227.1,1002.1 1228.6,1000.2 1230.1,1000.3 1231.6,998.7 1233.1,998.2 1234.6,997.5 1236.1,996.7 1237.6,996.0 1239.1,995.2 1240.6,994.5 1242.1,993.7 1243.6,993.0 1245.1,992.2 1246.6,991.5 1248.1,990.9 1249.6,989.2 1251.1,989.4 1252.6,987.1 1254.1,987.9 1255.6,985.0 1257.1,986.5 1258.6,982.5 1260.1,985.3 1261.6,978.9 1263.1,984.0 1264.6,975.2 1266.1,981.7 1267.6,972.2 1269.1,979.1 1270.6,969.8 1272.1,976.1 1273.6,967.7 1275.1,972.2 1276.6,965.9 1278.1,967.8 1279.6,961.7 1281.1,964.6 1282.6,950.2 1284.1,961.0 1285.6,948.0 1287.1,957.4 1288.6,945.9 1290.1,953.8 1291.6,943.2 1293.1,949.1 1294.6,940.2 1296.1,943.8 1297.6,936.9 1299.1,940.0 1300.6,935.4 1302.1,937.2 1303.6,934.9 1305.1,935.3 1306.6,934.3 1308.1,936.9 1309.6,935.1 1311.1,941.4 1312.6,937.8 1314.1,946.5 1315.6,943.0 1317.1,951.8 1318.6,946.1 1320.1,954.6 1321.6,947.4 1323.1,955.4 1324.6,945.0 1326.1,955.4 1327.6,946.4 1329.1,955.3 1330.6,947.1 1332.1,954.3 1333.6,947.4 1335.1,953.0 1336.6,947.0 1338.1,951.2 1339.6,945.5 1341.1,948.5 1342.6,943.8 1344.1,945.8 1345.6,939.1 1347.1,944.9 1348.6,937.7 1350.1,944.0 1351.6,936.8 1353.1,942.1 1354.6,935.4 1356.1,939.1 1357.6,932.4 1359.1,936.1 1360.6,929.8 1362.1,933.6 1363.6,927.5 1365.1,931.7 1366.6,923.6 1368.1,929.4 1369.6,920.9 1371.1,926.9 1372.6,920.0 1374.1,924.5 1375.6,919.1 1377.1,922.1 1378.6,917.1 1380.1,919.7 1381.6,913.5 1383.1,917.3 1384.6,910.5 1386.1,914.9 1387.6,908.7 1389.1,912.5 1390.6,906.5 1392.1,910.1 1393.6,903.8 1395.1,907.1 1396.6,901.4 1398.1,904.1 1399.6,899.3 1401.1,901.1 1402.6,896.5 1404.1,898.1 1405.6,892.9 1407.1,895.1 1408.6,889.6 1410.1,892.1 1411.6,886.6 1413.1,889.1 1414.6,883.6 1416.1,886.1 1417.6,880.6 1419.1,883.0 1420.6,877.8 1422.1,880.4 1423.6,877.4 1425.1,877.1 1426.6,874.3 1428.1,873.8 1429.6,870.7 1431.1,870.5 1432.6,867.1 1434.1,866.6 1435.6,863.5 1437.1,862.7 1438.6,859.9 1440.1,858.8 1441.6,856.6 1443.1,854.5 1444.6,853.5 1446.1,851.0 1447.6,849.9 1449.1,848.4 1450.6,846.9 1452.1,845.4 1453.6,844.0 1455.1,842.8 1456.6,841.7 1458.1,840.7 1459.6,839.7 1461.1,838.7 1462.6,837.8 1464.1,836.8 1465.6,836.1 1467.1,836.2 1468.6,836.3 1470.1,836.5 1471.6,836.6 1473.1,836.8 1474.6,836.9 1476.1,837.1 1477.6,837.5 1479.1,838.0 1480.6,838.4 1482.1,838.9 1483.6,839.3 1485.1,839.8 1486.6,840.3 1488.1,840.9 1489.6,841.8 1491.1,842.6 1492.6,843.4 1494.1,844.2 1495.6,845.1 1497.1,845.8 1498.6,846.6 1500.1,846.0 1501.6,846.3 1503.1,846.4 1504.6,846.5 1506.1,846.6 1507.6,846.6 1509.1,846.4 1510.6,845.8 1512.1,845.3 1513.6,844.8 1515.1,844.3 1516.6,843.7 1518.1,843.2 1519.6,843.2 1521.1,842.1 1522.6,842.6 1524.1,841.5 1525.6,842.0 1527.1,840.9 1528.6,841.4 1530.1,840.3 1531.6,840.8 1533.1,839.7 1534.6,840.2 1536.1,839.1 1537.6,839.6 1539.1,838.5 1540.6,838.2 1542.1,837.1 1543.6,835.7 1545.1,834.4 1546.6,833.4 1548.1,831.2 1549.6,831.0 1551.1,828.2 1552.6,829.2 1554.1,826.4 1555.6,827.4 1557.1,825.2 1558.6,825.6 1560.1,824.0 1561.6,823.4 1563.1,822.4 1564.6,821.0 1566.1,819.9 1567.6,817.6 1569.1,817.5 1570.6,814.3 1572.1,814.5 1573.6,811.0 1575.1,810.9 1576.6,807.2 1578.1,807.3 1579.6,803.3"/>
<polyline stroke="#0000ff" stroke-linecap="butt" points="1572.2,813.6 1582.9,800.3 1593.6,783.7 1604.2,768.7 1614.9,752.7 1625.6,735.6 1636.3,720.0 1644.6,705.7 1652.2,694.0 1660.4,682.2 1667.5,670.5 1673.3,658.7 1680.4,647.0 1687.4,635.2 1691.0,628.3 1691.6,625.7 1693.3,623.6 1693.8,621.0 1695.6,619.0 1696.0,616.3 1697.9,614.3 1698.2,611.5 1700.2,610.0 1700.6,607.6 1702.7,606.1 1703.1,603.6 1705.2,602.3 1705.4,599.8 1707.4,598.1 1707.2,595.5 1709.2,593.8 1708.9,591.1 1711.0,589.5 1711.0,586.6 1713.4,584.8 1713.3,581.8 1715.8,580.1 1715.6,577.2 1717.9,575.4 1717.3,572.5 1719.6,570.7 1719.0,567.8 1721.4,566.0 1720.7,563.1 1723.2,561.3 1722.5,558.4 1725.0,556.6 1724.3,553.7 1726.8,551.9 1726.0,548.9 1728.6,547.2 1727.7,544.2 1730.3,542.6 1729.5,539.5 1732.4,537.9 1731.5,534.8 1734.4,533.2 1733.5,530.2 1736.2,528.4 1734.9,525.5 1737.7,523.7 1736.3,520.8 1739.0,519.3 1738.4,515.8 1741.8,514.6 1741.2,511.1 1744.7,510.0 1743.9,506.5 1747.2,505.1 1745.8,501.8 1749.1,500.4 1747.6,497.1 1751.0,495.6 1749.1,492.5 1752.3,490.9 1750.4,487.8 1753.6,486.2 1751.7,483.0 1755.1,481.6 1753.4,478.3 1756.9,476.9 1755.2,473.6 1758.7,472.3 1757.0,468.9 1760.6,467.6 1758.8,464.2 1762.5,462.9 1760.7,459.5 1764.5,458.0 1762.5,454.4 1766.4,453.1 1764.4,449.5 1768.4,448.2 1766.4,444.5 1770.5,443.0 1767.9,439.8 1771.7,438.1 1769.1,434.8 1773.0,433.2 1770.3,429.8 1774.3,428.3 1771.8,424.9 1775.8,423.4 1773.3,420.0 1777.3,418.3 1774.5,415.2 1778.4,413.4 1775.6,410.2 1779.5,408.5 1776.8,405.1 1780.8,403.7 1778.5,400.2 1782.6,398.8 1780.2,395.2 1784.3,393.8 1781.8,390.5 1785.8,389.3 1783.2,386.3 1786.9,383.9 1783.8,380.7 1787.7,378.9 1784.8,375.7 1788.7,373.9 1785.8,370.8 1789.6,369.1 1787.0,365.8 1791.0,364.4 1788.4,361.1 1792.4,359.8 1791.4,356.9"/>
</g>
<g fill="#800000" fill-opacity="0.62">
<rect x="1299.5" y="180.3" width="12.3" height="1119.2"/>
<rect x="1459.0" y="180.3" width="12.3" height="1119.2"/>
</g>
<g font-family="'Liberation Serif', 'DejaVu Serif', serif" fill="#000" stroke="#fff" stroke-width="0.8" style="font-kerning:none">
<text transform="translate(210.5 81.4) scale(1 1.010)" font-size="82.6" text-anchor="end">40</text>
<text transform="translate(210.5 249.5) scale(1 1.010)" font-size="82.6" text-anchor="end">35</text>
<text transform="translate(210.5 417.6) scale(1 1.010)" font-size="82.6" text-anchor="end">30</text>
<text transform="translate(210.5 585.7) scale(1 1.010)" font-size="82.6" text-anchor="end">25</text>
<text transform="translate(210.5 753.9) scale(1 1.010)" font-size="82.6" text-anchor="end">20</text>
<text transform="translate(210.5 922.0) scale(1 1.010)" font-size="82.6" text-anchor="end">15</text>
<text transform="translate(210.5 1090.1) scale(1 1.010)" font-size="82.6" text-anchor="end">10</text>
<text transform="translate(210.5 1258.2) scale(1 1.010)" font-size="82.6" text-anchor="end">5</text>
<text transform="translate(249.3 1403.9) scale(1 1.000)" font-size="82.6" text-anchor="middle">4000</text>
<text transform="translate(468.5 1403.9) scale(1 1.000)" font-size="82.6" text-anchor="middle">3500</text>
<text transform="translate(689.1 1403.9) scale(1 1.000)" font-size="82.6" text-anchor="middle">3000</text>
<text transform="translate(909.6 1403.9) scale(1 1.000)" font-size="82.6" text-anchor="middle">2500</text>
<text transform="translate(1130.1 1403.9) scale(1 1.000)" font-size="82.6" text-anchor="middle">2000</text>
<text transform="translate(1350.6 1403.9) scale(1 1.000)" font-size="82.6" text-anchor="middle">1500</text>
<text transform="translate(1571.2 1403.9) scale(1 1.000)" font-size="82.6" text-anchor="middle">1000</text>
<text transform="translate(1790.9 1403.9) scale(1 1.000)" font-size="82.6" text-anchor="middle">500</text>
<text transform="translate(1318.5 160.0) scale(1 1.045)" font-size="57" text-anchor="middle" stroke-width="0.5">1600</text>
<text transform="translate(1468.8 158.2) scale(1 1.045)" font-size="57" text-anchor="middle" stroke-width="0.5">1250</text>
<text transform="translate(351.6 131.6) scale(1 1.000)" font-size="64.9" stroke-width="0.5">AC</text>
<text transform="translate(351.6 211.2) scale(1 1.000)" font-size="64.9" stroke-width="0.5">AY23-AC</text>
<text transform="translate(351.6 291.2) scale(1 1.000)" font-size="64.9" stroke-width="0.5">AB9-AC</text>
<text font-size="82" text-anchor="middle" stroke="none" transform="translate(81.3 680) rotate(-90) scale(1 0.950)">Transmittance (%)</text>
<text transform="translate(892.0 1502.3) scale(1 0.975)" font-size="83" stroke="none">ν (cm<tspan font-size="55" dy="-37">−1</tspan><tspan dy="37">)</tspan></text>
<text transform="translate(900.0 1487.5) scale(1 1.000)" font-size="83" stroke="none">˜</text>
</g>
<g stroke-width="12.7" stroke-linecap="round" fill="none">
<path stroke="#000" d="M285 110.7H335"/>
<path stroke="#ed7d31" d="M285 188.9H335"/>
<path stroke="#0000ff" d="M285 268.2H335"/>
</g>
</svg>
</body>
</html>
